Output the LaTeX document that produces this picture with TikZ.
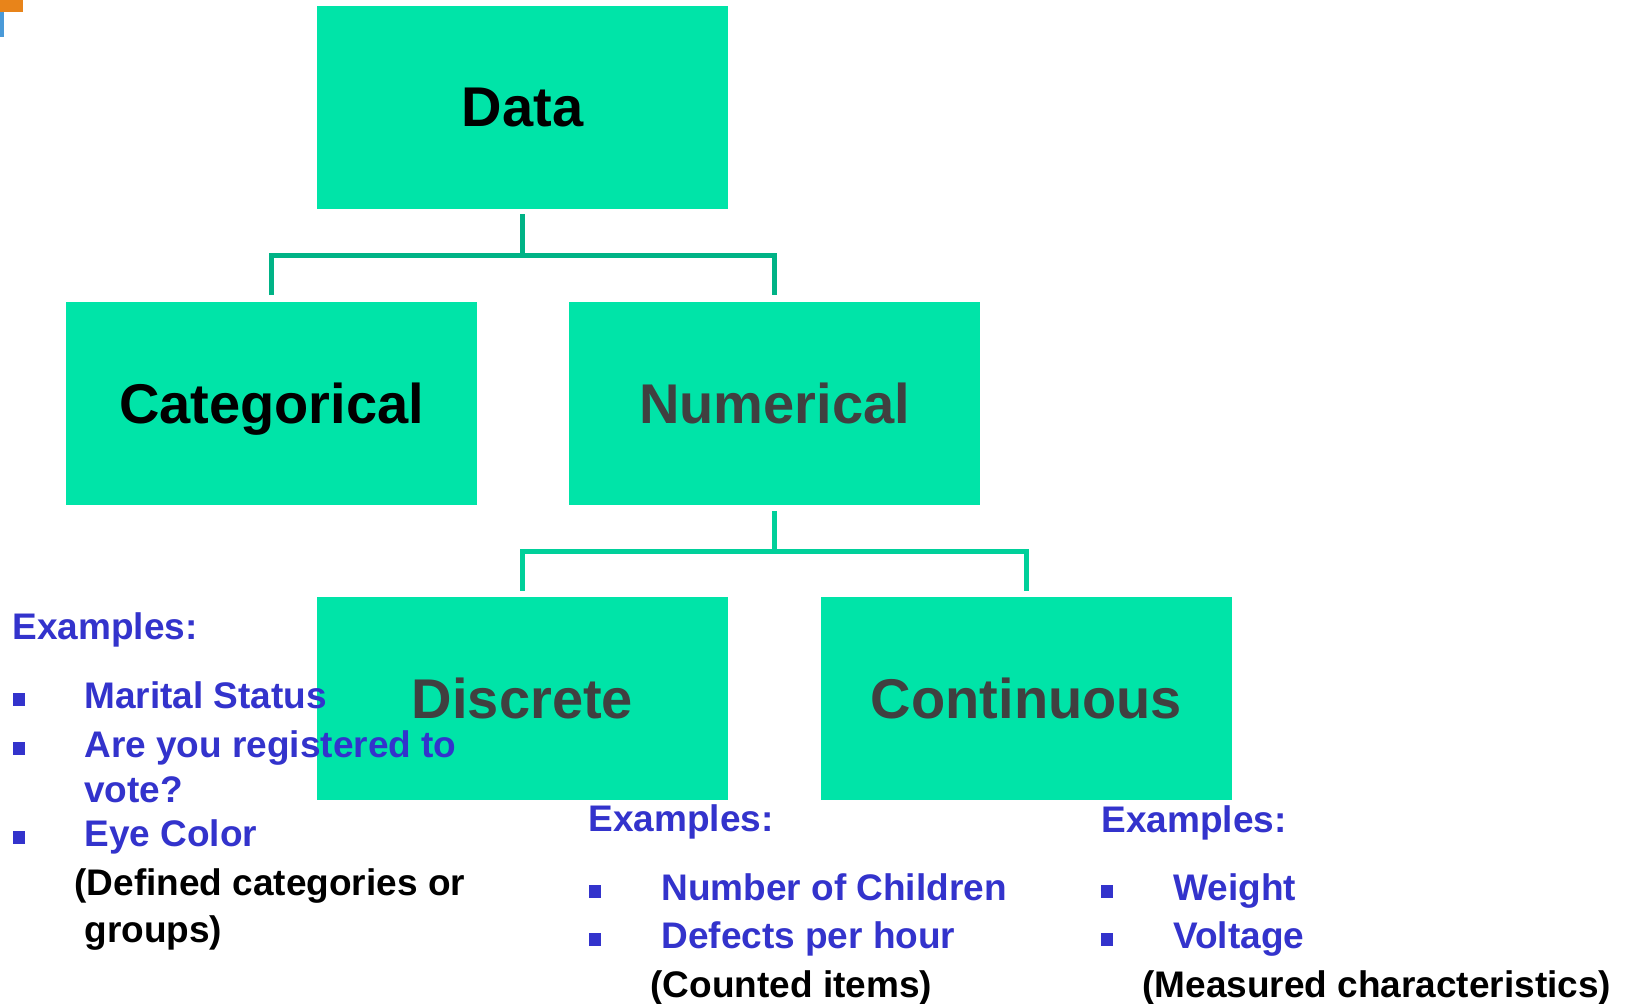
\documentclass[tikz,border=0pt]{standalone}
\usepackage{fontspec}
\setmainfont{Liberation Sans}
\definecolor{boxfill}{HTML}{00E4A8}
\definecolor{connA}{HTML}{00B386}
\definecolor{connB}{HTML}{00D09A}
\definecolor{exblue}{HTML}{3333CC}
\definecolor{labgray}{HTML}{404040}
\definecolor{orng}{HTML}{E8841A}
\definecolor{blu}{HTML}{4A9AD8}
\begin{document}
\begin{tikzpicture}[x=0.5pt,y=-0.5pt,
  box/.style={rectangle,fill=boxfill,minimum width=205.5pt,minimum height=101.5pt,inner sep=0pt,text depth=0pt,font=\bfseries\fontsize{28}{32}\selectfont},
  c1/.style={draw=connA,line width=2.5pt},
  c2/.style={draw=connB,line width=2.5pt},
  txt/.style={anchor=base west,inner sep=0pt,font=\bfseries\fontsize{18.5}{22}\selectfont},
  bl/.style={txt,text=exblue},
  bk/.style={txt,text=black}]
\useasboundingbox (0,0) rectangle (1632,1003);
\fill[white] (0,0) rectangle (1632,1003);
% corner artifact
\fill[orng] (0,0) rectangle (23,12);
\fill[blu] (0,12) rectangle (4,37);
% boxes
\node[box,text=black] (data) at (522.5,107.5) {Data};
\node[box,text=black] (cat) at (271.5,403) {Categorical};
\node[box,text=labgray] (num) at (774.5,403) {Numerical};
\node[box,text=labgray] (disc) at (522.5,698.5) {Discrete};
\node[box,text=labgray] (cont) at (1026.5,698.5) {Continuous};
% connectors
\coordinate (bus1) at (522.5,255);
\coordinate (bus2) at (774.5,551);
\draw[c1] ([yshift=-2.5pt]data.south) -- (bus1);
\draw[c1] ([yshift=3pt]cat.north) |- (bus1) -| ([yshift=3pt]num.north);
\draw[c2] ([yshift=-3pt]num.south) -- (bus2);
\draw[c2] ([yshift=3pt]disc.north) |- (bus2) -| ([yshift=3pt]cont.north);
% left examples
\node[bl] (exL) at (12,639) {Examples:};
\node[bl] (l1) at (84,708) {Marital Status};
\node[bl] (l2) at (84,757) {Are you registered to};
\node[bl] (l2b) at (84,802) {vote?};
\node[bl] (l3) at (84,846) {Eye Color};
\node[bk] (l4) at (74,895) {(Defined categories or};
\node[bk] (l4b) at (84,942) {groups)};
\foreach \yy in {708,757,846} \fill[exblue] (13,\yy-2) rectangle (25,\yy-15);
% middle examples
\node[bl] (exM) at (588,831) {Examples:};
\node[bl] (m1) at (661,900) {Number of Children};
\node[bl] (m2) at (661,948) {Defects per hour};
\node[bk] (m3) at (650,997) {(Counted items)};
\foreach \yy in {900,948} \fill[exblue] (589,\yy-2) rectangle (601,\yy-15);
% right examples
\node[bl] (exR) at (1101,832) {Examples:};
\node[bl] (r1) at (1173,900) {Weight};
\node[bl] (r2) at (1173,948) {Voltage};
\node[bk] (r3) at (1142,997) {(Measured characteristics)};
\foreach \yy in {900,948} \fill[exblue] (1101,\yy-2) rectangle (1113,\yy-15);
\end{tikzpicture}
\end{document}
